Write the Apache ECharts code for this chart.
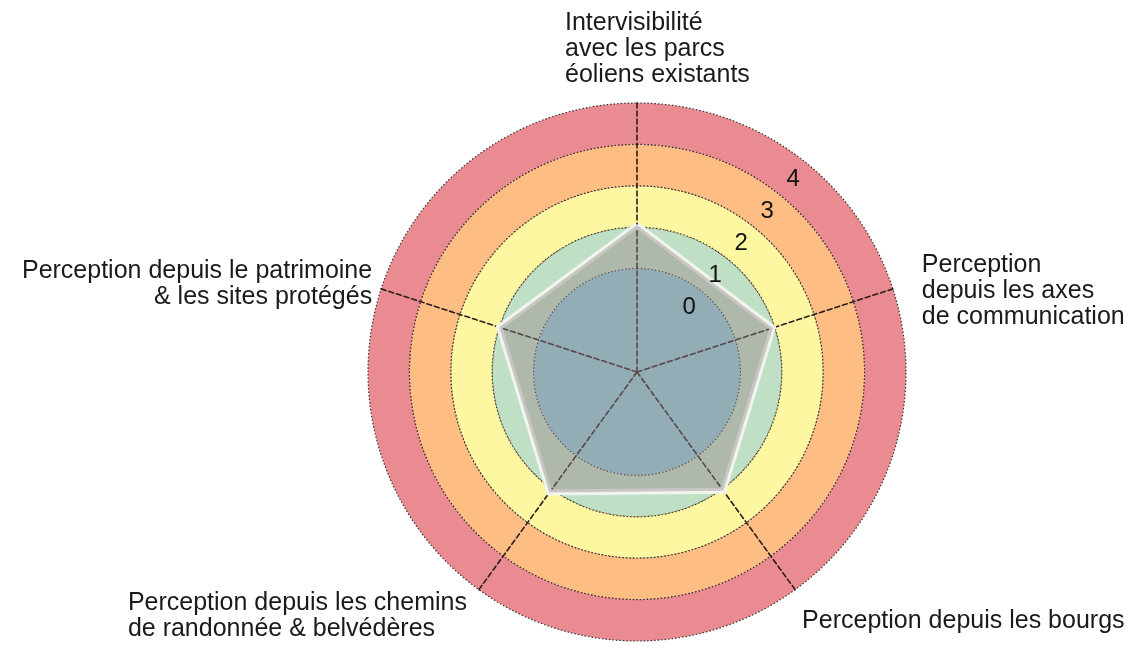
<!DOCTYPE html>
<html>
<head>
<meta charset="utf-8">
<script src="https://cdn.jsdelivr.net/npm/echarts@6/dist/echarts.min.js"></script>
<style>html,body{margin:0;background:#fff}#main{width:1131px;height:649px}</style>
</head>
<body>
<div id="main"></div>
<script>
// axis names, clockwise from the top
const axisNames = [
    'Intervisibilité\navec les parcs\néoliens existants',
    'Perception\ndepuis les axes\nde communication',
    'Perception depuis les bourgs',
    'Perception depuis les chemins\nde randonnée & belvédères',
    'Perception depuis le patrimoine\n& les sites protégés'
];
// level rings: label, colour, thickness (radial units)
const levelLabels = ['0', '1', '2', '3', '4'];
const ringColors = ['#8fcbd8', '#bfe0c5', '#fdf7a2', '#fdbd83', '#e98b91'];
const ringWidths = [2.5, 1, 1, 1, 1];
const levelRadius = [2, 3, 4, 5, 6];
const maxRadius = 6.5;
// polygon values (radial units)
const scores = [3.55, 3.5, 3.6, 3.55, 3.45];

const font = "'Liberation Sans', Arial, sans-serif";
const center = [637, 372];
const R = 269;
const levelAngle = 39;

const nameLayout = [
    { align: 'left', verticalAlign: 'bottom', offset: [-72, -15] },
    { align: 'left', verticalAlign: 'middle', offset: [29, 2] },
    { align: 'left', verticalAlign: 'middle', offset: [7, 31] },
    { align: 'left', verticalAlign: 'middle', offset: [-351, 26] },
    { align: 'right', verticalAlign: 'middle', offset: [-9, -5] }
];

const chart = echarts.init(document.getElementById('main'));

const rings = ringWidths.map(function (w, i) {
    return {
        type: 'bar',
        coordinateSystem: 'polar',
        polarIndex: 0,
        stack: 'rings',
        data: [w],
        barCategoryGap: '0%',
        barGap: '0%',
        silent: true,
        z: 1,
        itemStyle: {
            color: ringColors[i],
            borderColor: i ? '#3a3030' : 'rgba(0,0,0,0)',
            borderWidth: i ? 1.2 : 0,
            borderType: [1.5, 2]
        }
    };
});

option = {
    animation: false,
    polar: [
        { center: center, radius: R },
        { center: center, radius: R }
    ],
    angleAxis: [
        { polarIndex: 0, type: 'category', data: ['ring'], startAngle: 90, show: false },
        { polarIndex: 1, type: 'value', min: 0, max: 360, startAngle: 90, show: false }
    ],
    radiusAxis: [
        { polarIndex: 0, type: 'value', min: 0, max: maxRadius, show: false },
        { polarIndex: 1, type: 'value', min: 0, max: maxRadius, show: false }
    ],
    radar: {
        center: center,
        radius: R,
        startAngle: 90,
        shape: 'circle',
        z: 3,
        indicator: axisNames.map(function (n) {
            return { name: n, min: 0, max: maxRadius };
        }),
        axisName: { show: false },
        splitLine: { show: false },
        splitArea: { show: false },
        axisTick: { show: false },
        axisLabel: { show: false },
        axisLine: {
            lineStyle: { color: '#2a1c1c', width: 1.6, type: [5, 3] }
        }
    },
    series: rings.concat([
        {
            type: 'radar',
            z: 4,
            silent: true,
            symbol: 'none',
            data: [{ value: scores }],
            lineStyle: { color: '#f0f6ef', width: 6, join: 'miter' },
            areaStyle: { color: 'rgba(149,131,135,0.6)' }
        },
        {
            type: 'scatter',
            coordinateSystem: 'polar',
            polarIndex: 1,
            z: 5,
            silent: true,
            symbolSize: 1,
            itemStyle: { color: 'rgba(0,0,0,0)' },
            data: levelRadius.map(function (r, i) {
                return { name: levelLabels[i], value: [r, levelAngle] };
            }),
            label: {
                show: true,
                position: 'inside',
                formatter: '{b}',
                fontSize: 24,
                fontFamily: font,
                color: '#111',
                opacity: 1,
                textBorderWidth: 0
            }
        },
        {
            type: 'scatter',
            coordinateSystem: 'polar',
            polarIndex: 1,
            z: 5,
            silent: true,
            symbolSize: 1,
            itemStyle: { color: 'rgba(0,0,0,0)' },
            data: axisNames.map(function (n, i) {
                return { name: n, value: [maxRadius, i * 360 / axisNames.length], label: nameLayout[i] };
            }),
            label: {
                show: true,
                position: 'inside',
                formatter: '{b}',
                fontSize: 25,
                lineHeight: 26,
                fontFamily: font,
                color: '#1a1a1a',
                opacity: 1,
                textBorderWidth: 0
            }
        }
    ])
};

chart.setOption(option);
</script>
</body>
</html>
